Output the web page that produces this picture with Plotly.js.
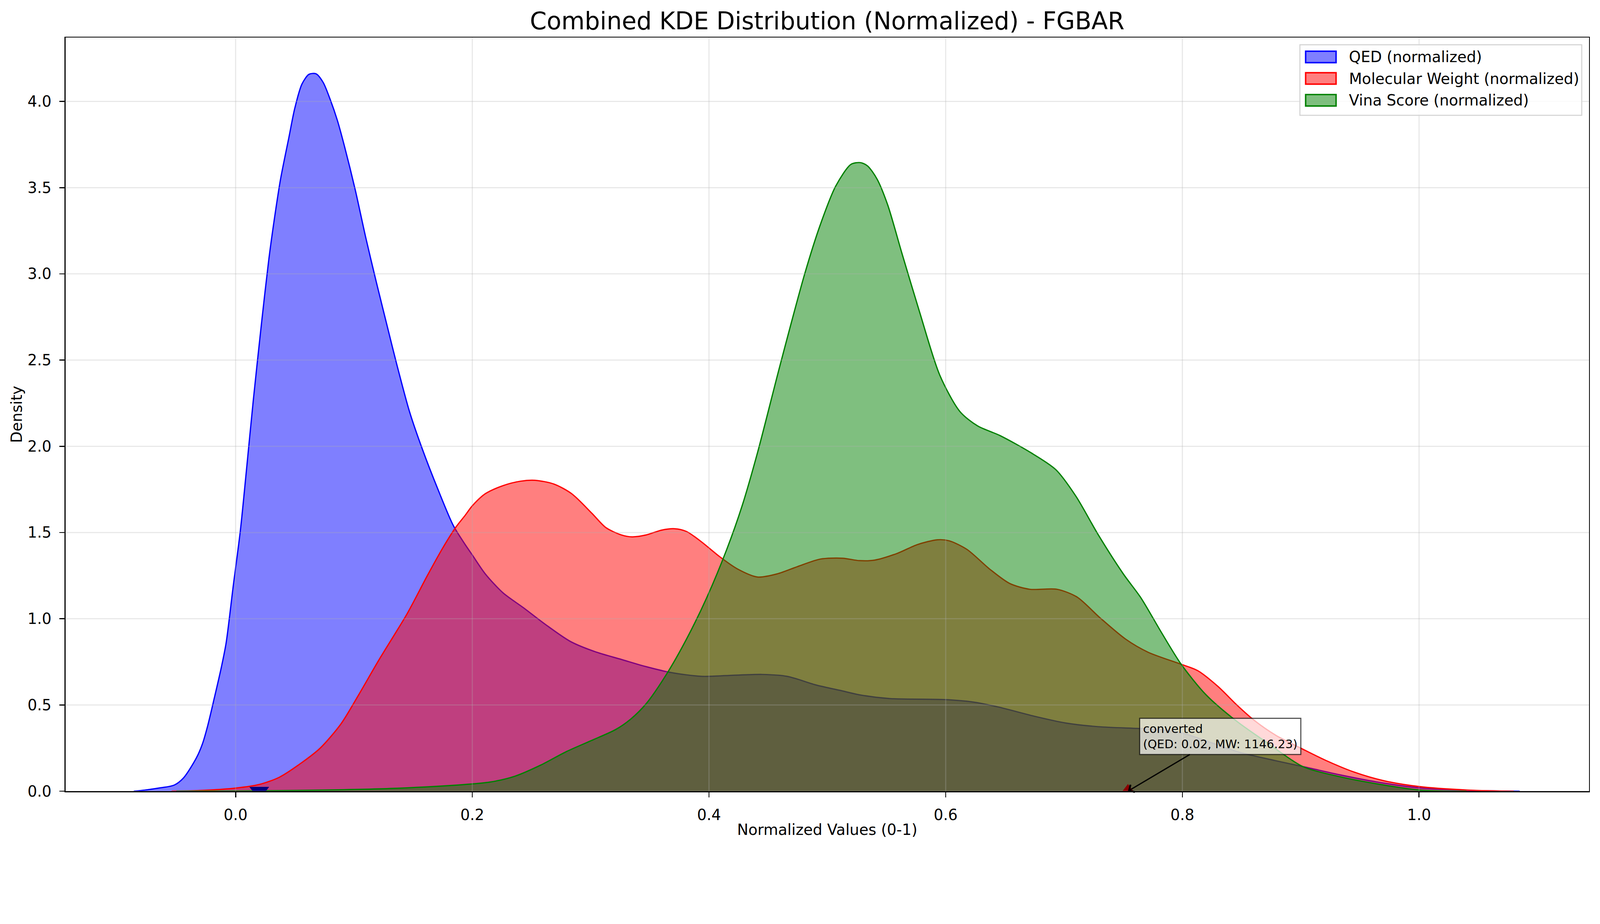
<!DOCTYPE html>
<html>
<head>
<meta charset="utf-8">
<script src="https://cdn.plot.ly/plotly-3.0.1.min.js"></script>
<style>html,body{margin:0;padding:0;background:#fff;overflow:hidden;}
#wrap{overflow:hidden;position:relative;}
#chart{transform-origin:0 0;position:absolute;left:0;top:0;}</style>
</head>
<body>
<div id="wrap"><div id="chart" style="width:4468px;height:2365px;"></div></div>
<script>
// ---------------- data ----------------
const seriesNames = ["QED (normalized)", "Molecular Weight (normalized)", "Vina Score (normalized)"];

const qedX = [-0.086,-0.075,-0.064,-0.052,-0.044,-0.033,-0.028,-0.0236,-0.018,-0.012,-0.008,-0.002,0.004,0.009,0.015,0.022,0.028,0.033,0.038,0.045,0.050,0.056,0.062,0.068,0.074,0.080,0.086,0.092,0.101,0.110,0.119,0.128,0.136,0.147,0.158,0.171,0.184,0.194,0.200,0.211,0.226,0.243,0.262,0.283,0.305,0.326,0.347,0.368,0.394,0.417,0.445,0.466,0.491,0.513,0.527,0.553,0.599,0.623,0.644,0.676,0.701,0.729,0.762,0.780,0.800,0.824,0.848,0.878,0.905,0.933,0.964,1.000,1.040,1.085];
const qedY = [0.0,0.008,0.019,0.035,0.077,0.195,0.275,0.379,0.54,0.72,0.86,1.19,1.51,1.85,2.27,2.72,3.08,3.33,3.55,3.79,3.96,4.10,4.157,4.16,4.11,4.01,3.89,3.74,3.49,3.21,2.95,2.70,2.48,2.20,1.98,1.75,1.54,1.43,1.37,1.26,1.15,1.065,0.966,0.868,0.806,0.764,0.722,0.688,0.666,0.671,0.677,0.666,0.615,0.581,0.559,0.537,0.531,0.517,0.489,0.433,0.396,0.374,0.364,0.358,0.337,0.282,0.226,0.178,0.138,0.095,0.054,0.020,0.005,0.0];

const mwX = [-0.054,-0.024,0.000,0.020,0.037,0.056,0.0715,0.089,0.104,0.121,0.145,0.162,0.175,0.186,0.194,0.200,0.211,0.226,0.241,0.253,0.269,0.284,0.301,0.313,0.326,0.335,0.347,0.360,0.371,0.381,0.394,0.409,0.424,0.441,0.458,0.475,0.494,0.513,0.527,0.540,0.559,0.576,0.593,0.603,0.618,0.637,0.654,0.671,0.694,0.711,0.730,0.752,0.771,0.799,0.813,0.830,0.846,0.8605,0.879,0.904,0.922,0.945,0.970,1.000,1.040,1.080];
const mwY = [0.0,0.006,0.018,0.039,0.081,0.166,0.25,0.39,0.559,0.76,1.03,1.25,1.41,1.53,1.60,1.655,1.725,1.772,1.798,1.803,1.781,1.725,1.612,1.528,1.486,1.475,1.486,1.514,1.522,1.506,1.444,1.36,1.289,1.242,1.261,1.303,1.346,1.351,1.337,1.34,1.379,1.43,1.458,1.452,1.402,1.289,1.205,1.171,1.171,1.126,1.008,0.882,0.806,0.736,0.699,0.608,0.50,0.412,0.324,0.236,0.176,0.111,0.061,0.027,0.007,0.0];

const vinaX = [-0.05,0.000,0.070,0.136,0.194,0.215,0.236,0.258,0.279,0.300,0.321,0.334,0.347,0.364,0.381,0.398,0.415,0.428,0.441,0.460,0.481,0.494,0.507,0.520,0.528,0.534,0.542,0.551,0.563,0.578,0.595,0.612,0.627,0.646,0.672,0.693,0.710,0.729,0.750,0.765,0.782,0.799,0.820,0.846,0.871,0.902,0.933,0.964,1.000,1.040];
const vinaY = [0.0,0.001,0.006,0.017,0.039,0.053,0.087,0.152,0.228,0.292,0.357,0.419,0.508,0.677,0.882,1.121,1.402,1.655,1.963,2.469,3.003,3.284,3.508,3.635,3.645,3.626,3.55,3.40,3.12,2.778,2.413,2.202,2.118,2.062,1.963,1.865,1.711,1.486,1.261,1.121,0.924,0.736,0.559,0.405,0.284,0.142,0.084,0.043,0.007,0.0];

// highlighted molecule ("converted")
const convertedQED = [0.02];
const convertedMW = [0.754];
const convertedZero = [0];
const annotationText = "converted<br>(QED: 0.02, MW: 1146.23)";

const xTickVals = [0.0, 0.2, 0.4, 0.6, 0.8, 1.0];
const yTickVals = [0.0, 0.5, 1.0, 1.5, 2.0, 2.5, 3.0, 3.5, 4.0];

// ---------------- styling ----------------
const FONT = "DejaVu Sans";
const lineColors = ["#0000ff", "#ff0000", "#008000"];
const fillColors = ["rgba(0,0,255,0.5)", "rgba(255,0,0,0.5)", "rgba(0,128,0,0.5)"];
const W = 4468, H = 2365;
const PL = 183, PR = 4437, PT = 105, PB = 2209;
const px2x = p => (p - PL) / (PR - PL);
const py2y = p => (PB - p) / (PB - PT);

// fit the fixed-size figure into the actual viewport
(function fit() {
  const vw = window.innerWidth || document.documentElement.clientWidth || W;
  const vh = window.innerHeight || document.documentElement.clientHeight || H;
  const s = Math.min(vw / W, vh / H);
  const wrap = document.getElementById("wrap");
  wrap.style.width = Math.floor(W * s) + "px";
  wrap.style.height = Math.floor(H * s) + "px";
  document.getElementById("chart").style.transform = "scale(" + s + ")";
})();

const xs = [qedX, mwX, vinaX], ys = [qedY, mwY, vinaY];
const traces = xs.map((x, i) => ({
  x: x, y: ys[i], type: "scatter", mode: "lines", name: seriesNames[i],
  fill: "tozeroy", fillcolor: fillColors[i],
  line: {color: lineColors[i], width: 3.5, shape: "spline", smoothing: 0.8},
  showlegend: false, hoverinfo: "skip"
}));
traces.push({x: convertedQED, y: convertedZero, type: "scatter", mode: "markers",
  marker: {symbol: "triangle-down", size: 48, color: "#000080"}, showlegend: false, cliponaxis: true});
traces.push({x: convertedMW, y: convertedZero, type: "scatter", mode: "markers",
  marker: {symbol: "triangle-up", size: 40, color: "#8b0000"}, showlegend: false, cliponaxis: true});

const gridColor = "rgba(176,176,176,0.3)";
const shapes = [];
xTickVals.forEach(v => shapes.push({type: "line", xref: "x", yref: "paper", x0: v, x1: v, y0: 0, y1: 1,
  line: {color: gridColor, width: 3}, layer: "above"}));
yTickVals.forEach(v => shapes.push({type: "line", xref: "paper", yref: "y", x0: 0, x1: 1, y0: v, y1: v,
  line: {color: gridColor, width: 3}, layer: "above"}));

// custom legend (matplotlib style patches)
shapes.push({type: "rect", xref: "paper", yref: "paper",
  x0: px2x(3630), x1: px2x(4417), y0: py2y(322), y1: py2y(125),
  fillcolor: "rgba(255,255,255,0.8)", line: {color: "#d4d4d4", width: 3}, layer: "above"});
const legendRows = [159, 219, 280];
const annotations = [];
legendRows.forEach((ry, i) => {
  shapes.push({type: "rect", xref: "paper", yref: "paper",
    x0: px2x(3646), x1: px2x(3731), y0: py2y(ry + 16), y1: py2y(ry - 16),
    fillcolor: fillColors[i], line: {color: lineColors[i], width: 4}, layer: "above"});
  annotations.push({xref: "paper", yref: "paper", x: px2x(3765), y: py2y(ry),
    xanchor: "left", yanchor: "middle", showarrow: false, text: seriesNames[i],
    font: {family: FONT, size: 42, color: "#000"}});
});

annotations.push({
  x: convertedMW[0], y: convertedZero[0], xref: "x", yref: "y",
  text: annotationText, align: "left", showarrow: true,
  ax: 258, ay: -153, axref: "pixel", ayref: "pixel",
  arrowhead: 4, arrowsize: 1.3, arrowwidth: 3.5, arrowcolor: "#000",
  bgcolor: "rgba(255,255,255,0.7)", bordercolor: "rgba(0,0,0,0.7)", borderwidth: 3, borderpad: 8,
  font: {family: FONT, size: 33, color: "#000"}
});

const axisCommon = {
  showgrid: false, zeroline: false, showline: true, mirror: true,
  linecolor: "#000", linewidth: 3, ticks: "outside", ticklen: 14, tickwidth: 3, tickcolor: "#000",
  tickfont: {family: FONT, size: 42, color: "#000"}, automargin: false
};

const layout = {
  width: W, height: H,
  margin: {l: PL, r: W - PR, t: PT, b: H - PB, pad: 0},
  paper_bgcolor: "#fff", plot_bgcolor: "#fff",
  font: {family: FONT, color: "#000"},
  title: {text: "Combined KDE Distribution (Normalized) - FGBAR", x: 0.5, xref: "paper",
    y: 1 - 58 / H, yref: "container", yanchor: "middle", xanchor: "center",
    font: {family: FONT, size: 67, color: "#000"}},
  xaxis: Object.assign({}, axisCommon, {
    range: [-0.1437, 1.1435], tickvals: xTickVals, ticktext: xTickVals.map(v => v.toFixed(1)),
    ticklabelstandoff: 13,
    title: {text: "Normalized Values (0-1)", standoff: 4, font: {family: FONT, size: 42, color: "#000"}}
  }),
  yaxis: Object.assign({}, axisCommon, {
    range: [0, 4.37], tickvals: yTickVals, ticktext: yTickVals.map(v => v.toFixed(1)),
    ticklabelstandoff: 14,
    title: {text: "Density", standoff: 2, font: {family: FONT, size: 42, color: "#000"}}
  }),
  shapes: shapes, annotations: annotations, showlegend: false
};

Plotly.newPlot("chart", traces, layout, {staticPlot: true, displayModeBar: false});
</script>
</body>
</html>
